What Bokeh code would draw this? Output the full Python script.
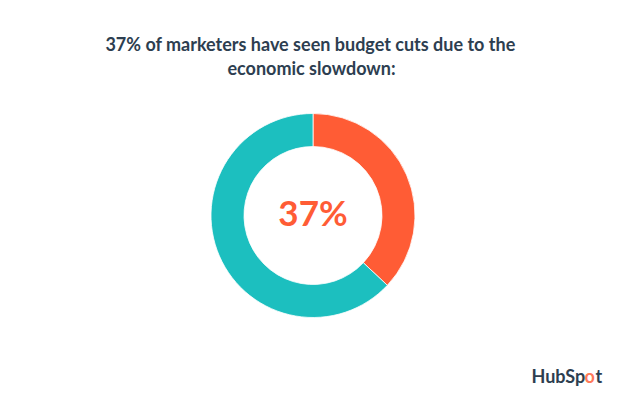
import numpy as np
from bokeh.plotting import figure
from bokeh.models import ColumnDataSource, Range1d
from bokeh.core.properties import value
from bokeh.embed import file_html
from bokeh.resources import INLINE

# Data
categories = ["Seen budget cuts", "Not seen budget cuts"]
shares = [37, 63]
colors = ["#ff5c35", "#1cbfbf"]
title_lines = ["37% of marketers have seen budget cuts due to the", "economic slowdown:"]
center_label = "37%"
brand = ["HubSp", "o", "t"]

W, H = 624, 395
p = figure(width=W, height=H, output_backend="svg", toolbar_location=None,
           x_range=Range1d(0, W), y_range=Range1d(0, H), min_border=0)
p.axis.visible = False
p.grid.visible = False
p.outline_line_color = None
p.background_fill_color = "white"
p.border_fill_color = "white"

cx, cy = 312.5, 180
frac = np.array(shares, dtype=float) / sum(shares)
ends = np.cumsum(frac) * 2 * np.pi
starts = ends - frac * 2 * np.pi
src = ColumnDataSource(dict(
    cat=categories,
    start=np.pi / 2 - starts,
    end=np.pi / 2 - ends,
    color=colors,
))
p.annular_wedge(x=cx, y=cy, inner_radius=69, outer_radius=102,
                start_angle="start", end_angle="end", direction="clock",
                fill_color="color", line_color="white", line_width=0.8,
                source=src, inner_radius_units="data", outer_radius_units="data")

font = value("Lato")
p.text(x=[310], y=[352], text=[title_lines[0]], text_font=font,
       text_font_style="bold", text_font_size="18px", text_color="#2d3e50",
       text_align="center", text_baseline="alphabetic")
p.text(x=[311], y=[328], text=[title_lines[1]], text_font=font,
       text_font_style="bold", text_font_size="18px", text_color="#2d3e50",
       text_align="center", text_baseline="alphabetic")

p.text(x=[cx], y=[184], text=[center_label], text_font=font,
       text_font_style="bold", text_font_size="35px", text_color="#ff5c35",
       text_align="center", text_baseline="alphabetic")

# brand mark
p.text(x=[531], y=[20], text=[brand[0]], text_font=font, text_font_style="bold",
       text_font_size="18px", text_color="#2d3e50", text_align="left",
       text_baseline="alphabetic")
p.text(x=[584], y=[20], text=[brand[1]], text_font=font, text_font_style="bold",
       text_font_size="18px", text_color="#ff7a59", text_align="left",
       text_baseline="alphabetic")
p.text(x=[595], y=[20], text=[brand[2]], text_font=font, text_font_style="bold",
       text_font_size="18px", text_color="#2d3e50", text_align="left",
       text_baseline="alphabetic")

open("out.html", "w").write(file_html(p, INLINE))
